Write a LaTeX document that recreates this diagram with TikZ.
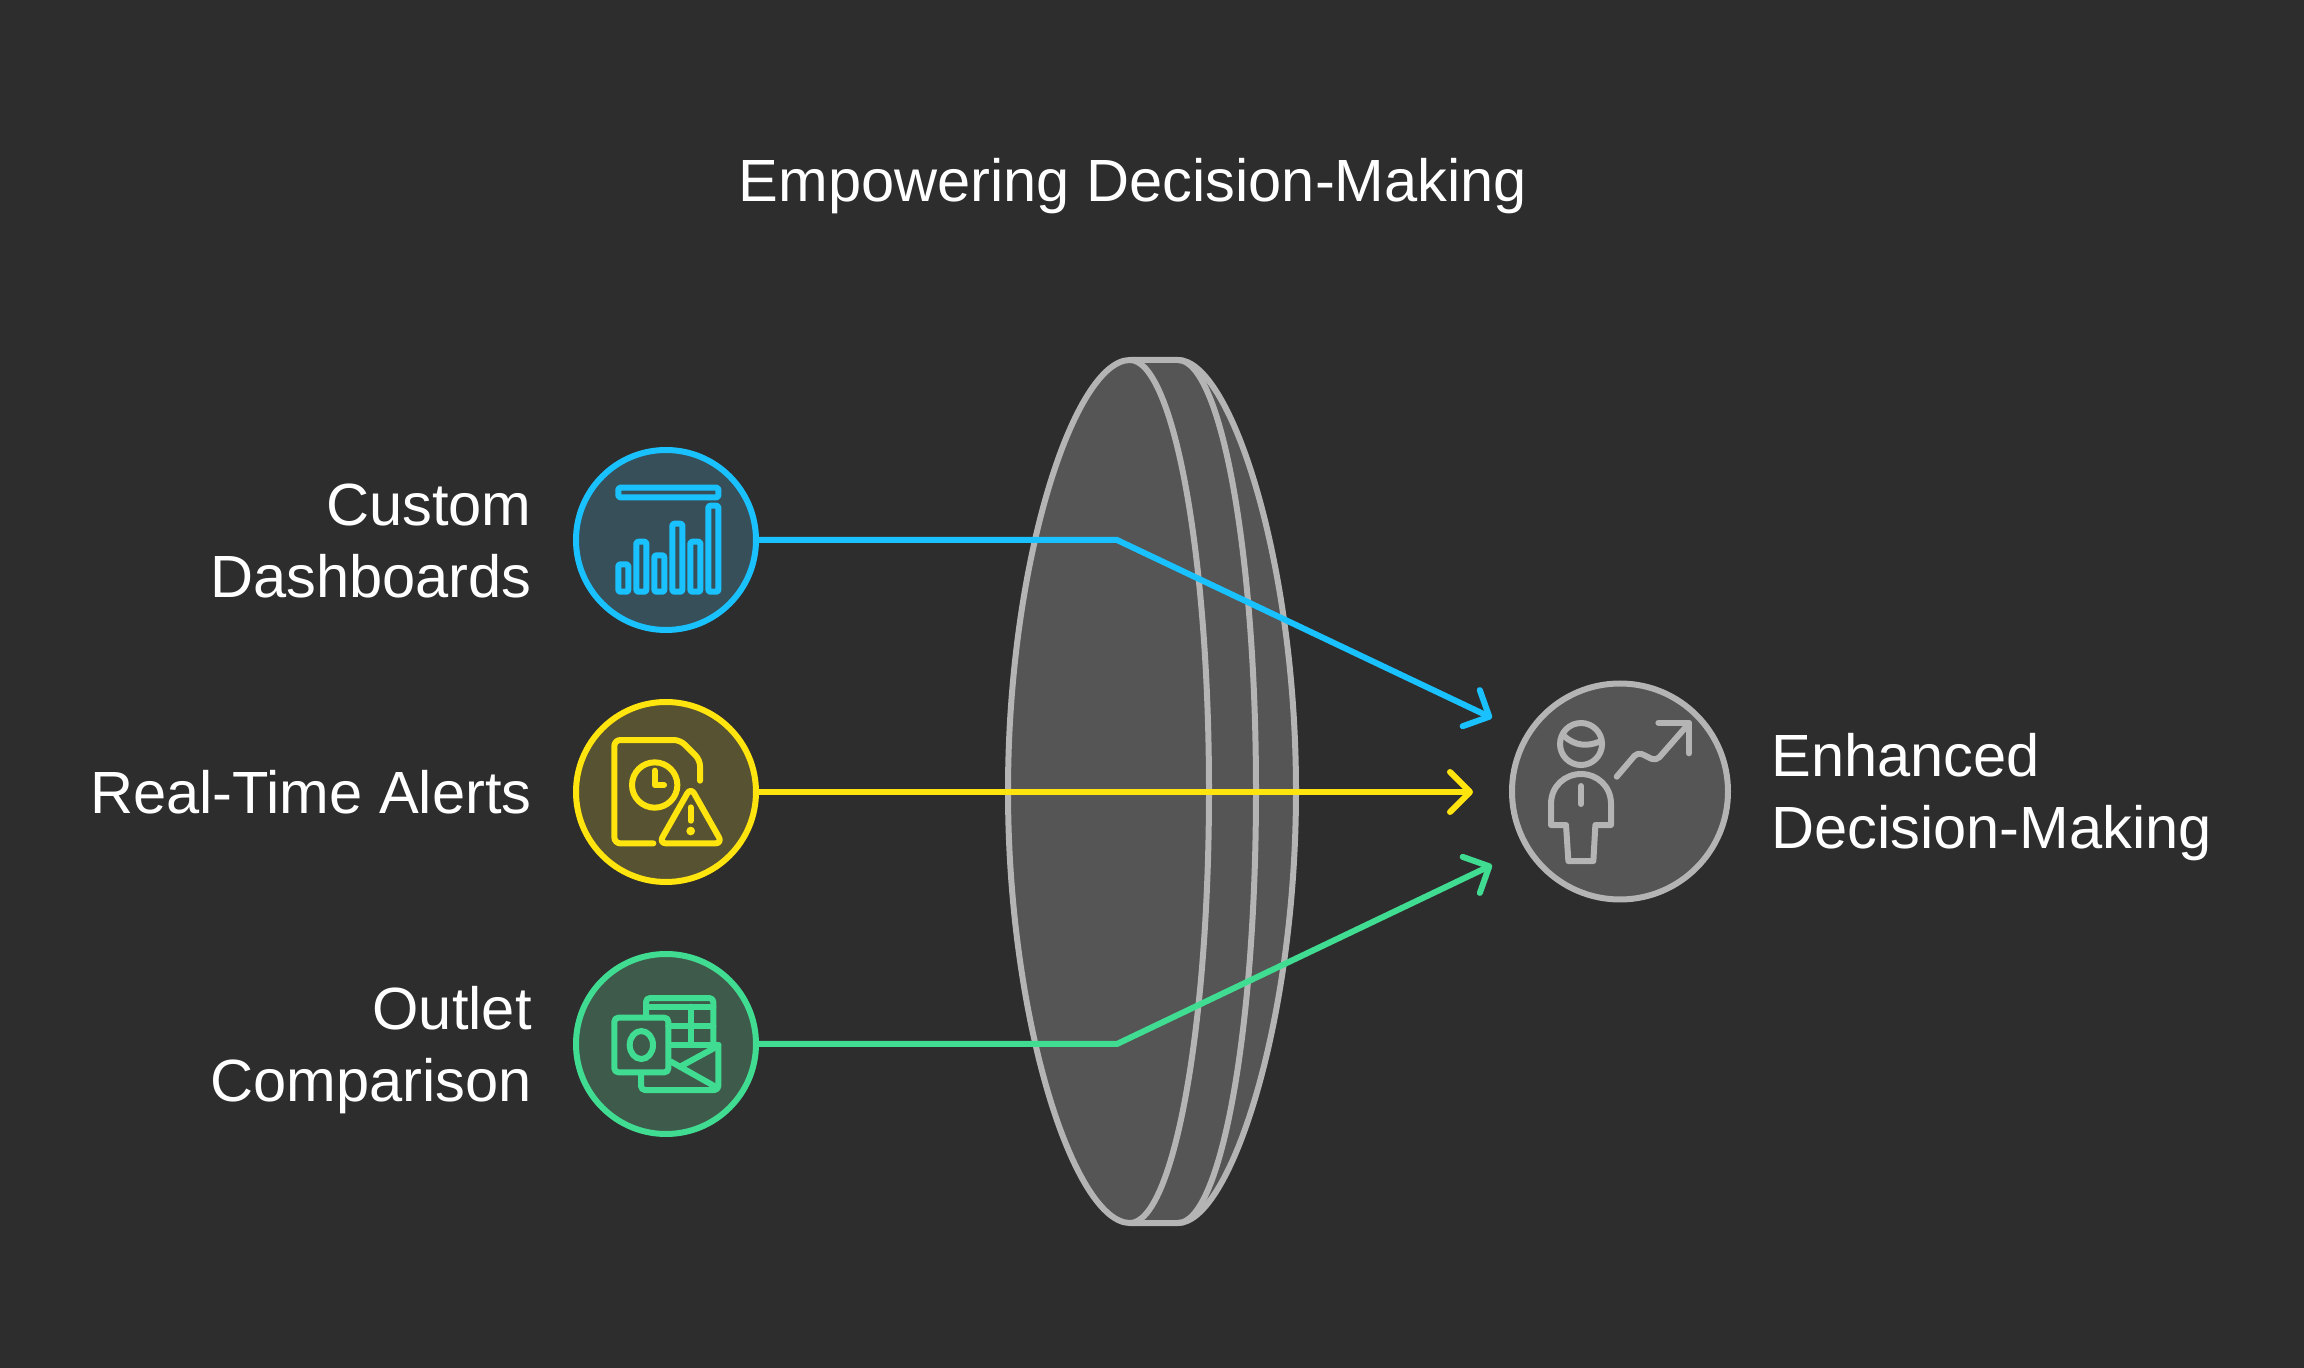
\documentclass[tikz,border=0pt]{standalone}
\usepackage{fontspec}
\setmainfont{Liberation Sans}
\usepackage{tikz}
\usetikzlibrary{arrows.meta,positioning}
\definecolor{bgdark}{HTML}{2D2D2D}
\definecolor{lensgrey}{HTML}{B4B4B4}
\definecolor{lensfill}{HTML}{555555}
\definecolor{skyblue}{HTML}{1AC1FF}
\definecolor{skyfill}{HTML}{364F59}
\definecolor{alertyellow}{HTML}{FFE40D}
\definecolor{alertfill}{HTML}{575231}
\definecolor{mintgreen}{HTML}{40DC92}
\definecolor{mintfill}{HTML}{3E5A4A}
\tikzset{
    roundel/.style={circle,draw,line width=3pt,inner sep=0pt,outer sep=0pt,minimum size=90pt},
    label/.style={text=white,inner sep=0pt,font=\fontsize{29.8}{36}\selectfont},
    link/.style={line width=3pt,-{Straight Barb[length=10pt,width=20pt,round]}},
    icon/.style={line width=3pt,line cap=round,line join=round},
    lensline/.style={draw=lensgrey,line width=3pt,line join=round}
}

\begin{document}
\begin{tikzpicture}[x=0.5pt,y=-0.5pt]
    \useasboundingbox (0,0) rectangle (2304,1368);
    \fill[bgdark] (0,0) rectangle (2304,1368);

    % Title
    \node[label] (title) at (1133,186) {Empowering Decision-Making};

    % Lens
    \fill[lensfill] (1130,360) -- (1178,360)
        .. controls (1230,360) and (1296,560) .. (1296,791)
        .. controls (1296,1022) and (1230,1223) .. (1178,1223) -- (1130,1223)
        .. controls (1075,1223) and (1008,1022) .. (1008,791)
        .. controls (1008,560) and (1075,360) .. (1130,360) -- cycle;
    \draw[lensline] (1178,360)
        .. controls (1221,360) and (1256,553) .. (1256,791)
        .. controls (1256,1029) and (1221,1223) .. (1178,1223);
    \draw[lensline] (1130,360)
        .. controls (1173,360) and (1209,553) .. (1209,791)
        .. controls (1209,1029) and (1173,1223) .. (1130,1223);
    \draw[lensline] (1130,360) -- (1178,360)
        .. controls (1230,360) and (1296,560) .. (1296,791)
        .. controls (1296,1022) and (1230,1223) .. (1178,1223) -- (1130,1223)
        .. controls (1075,1223) and (1008,1022) .. (1008,791)
        .. controls (1008,560) and (1075,360) .. (1130,360) -- cycle;

    % Circles
    \node[roundel,draw=skyblue,fill=skyfill] (dashboards) at (666,540) {};
    \node[roundel,draw=alertyellow,fill=alertfill] (alerts) at (666,792) {};
    \node[roundel,draw=mintgreen,fill=mintfill] (outlet) at (666,1044) {};
    \node[roundel,draw=lensgrey,fill=lensfill,minimum size=108pt] (enhanced) at (1620,791.5) {};

    % Labels
    \node[label,anchor=east,align=right] (dashboardsText) at (532,541) {Custom\\Dashboards};
    \node[label,anchor=east] (alertsText) at (532,792) {Real-Time Alerts};
    \node[label,anchor=east,align=right] (outletText) at (532,1050) {Outlet\\Comparison};
    \node[label,anchor=west,align=left] (enhancedText) at (1771,797) {Enhanced\\Decision-Making};

    % Connectors
    \coordinate (bendTop) at (1117,540);
    \coordinate (bendBottom) at (1117,1044);
    \coordinate (tipTop) at (1492,718);
    \coordinate (tipMiddle) at (1473,792);
    \coordinate (tipBottom) at (1492,865);
    \draw[link,skyblue] (dashboards.east) -- (bendTop) -- (tipTop);
    \draw[link,alertyellow] (alerts.east) -- (tipMiddle);
    \draw[link,mintgreen] (outlet.east) -- (bendBottom) -- (tipBottom);

    % Bar chart icon
    \begin{scope}[shift={(560,430)},x=0.1667pt,y=-0.1667pt]
        \draw[icon,skyblue,rounded corners=1pt] (175,173) rectangle (475,202);
        \foreach \x/\y in {175/403,229/335,283/376,337/281,391/335,445/227}
            \draw[icon,skyblue,rounded corners=1pt] (\x,\y) rectangle (\x+30,485);
    \end{scope}

    % Clock and warning icon
    \begin{scope}[shift={(560,680)},x=0.1667pt,y=-0.1667pt]
        \draw[icon,alertyellow,rounded corners=3pt] (280,490) -- (163,490) -- (163,180) -- (360,180) -- (420,240) -- (420,302);
        \draw[icon,alertyellow] (284,315) circle (68);
        \draw[icon,alertyellow] (284,272) -- (284,315) -- (312,315);
        \draw[icon,alertyellow,rounded corners=3.5pt] (392,322) -- (487,490) -- (297,490) -- cycle;
        \draw[icon,alertyellow] (392,382) -- (392,422);
        \fill[alertyellow] (392,453) circle (13);
    \end{scope}

    % Table and mail icon
    \begin{scope}[shift={(560,930)},x=0.1667pt,y=-0.1667pt]
        \draw[icon,mintgreen,rounded corners=2pt] (258,262) -- (258,204) -- (460,204) -- (460,345);
        \draw[icon,mintgreen] (258,230) -- (460,230);
        \draw[icon,mintgreen] (325,288) -- (460,288);
        \draw[icon,mintgreen] (392,230) -- (392,345);
        \draw[icon,mintgreen,rounded corners=2pt] (163,263) rectangle (325,427);
        \draw[icon,mintgreen] (244,345) ellipse (35 and 42);
        \draw[icon,mintgreen] (333,345) -- (475,345);
        \draw[icon,mintgreen,rounded corners=2pt] (243,435) -- (243,480) -- (475,480) -- (475,345);
        \draw[icon,mintgreen] (470,350) -- (360,410);
        \draw[icon,mintgreen] (333,395) -- (470,472);
    \end{scope}

    % Person and growth icon
    \begin{scope}[shift={(1450,660)},x=0.1667pt,y=-0.1667pt]
        \draw[icon,lensgrey] (393,252) circle (63);
        \draw[icon,lensgrey] (342,228) .. controls (375,258) and (412,260) .. (448,245);
        \draw[icon,lensgrey] (303,495) -- (303,432) .. controls (303,378) and (345,342) .. (393,342)
            .. controls (441,342) and (483,378) .. (483,432) -- (483,495) -- (436,495) -- (430,603) -- (355,603) -- (348,495) -- cycle;
        \draw[icon,lensgrey] (393,378) -- (393,432);
        \draw[icon,lensgrey,rounded corners=2.5pt] (500,350) -- (563,276) -- (618,303) -- (717,190);
        \draw[icon,lensgrey] (625,188) -- (717,188) -- (717,280);
    \end{scope}
\end{tikzpicture}
\end{document}
